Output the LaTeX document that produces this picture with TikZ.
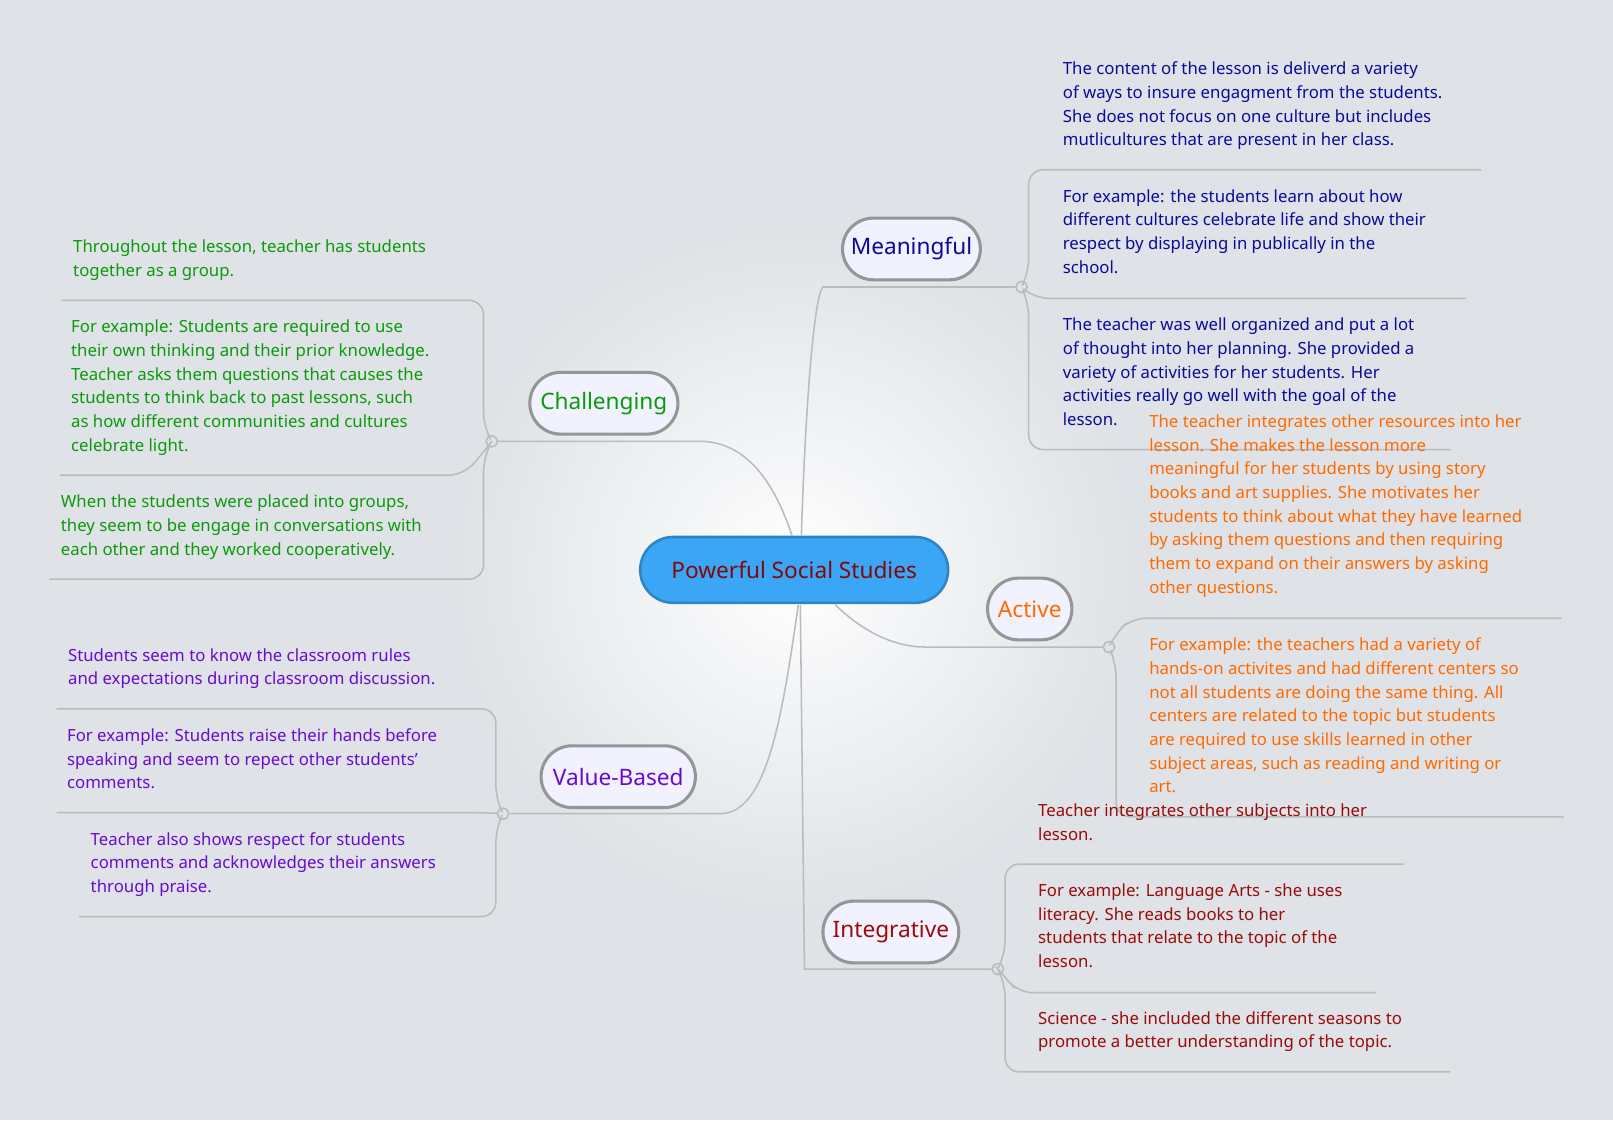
\documentclass[tikz,border=0pt]{standalone}
\usepackage{fontspec}
\setmainfont{Noto Sans}
\usetikzlibrary{shapes.misc}
\definecolor{bg}{HTML}{DFE2E6}
\definecolor{ln}{HTML}{B9BBBE}
\definecolor{cM}{HTML}{0A0A9A}
\definecolor{cC}{HTML}{0A9A0A}
\definecolor{cA}{HTML}{FF6A00}
\definecolor{cV}{HTML}{6A0AD0}
\definecolor{cI}{HTML}{9A0A0A}
\definecolor{cen}{HTML}{3AA6F5}
\tikzset{
 br/.style={draw=ln,line width=1.5pt,rounded corners=14pt},
 cn/.style={line width=1.5pt,draw=ln,fill=bg,circle,inner sep=0pt,minimum size=11pt},
 topic/.style={rounded rectangle,draw=ln!80!black,line width=3pt,fill=white!95!blue,minimum height=60pt,font=\fontsize{22}{26}\selectfont\bfseries,inner xsep=14pt},
 txt/.style={anchor=north west,align=left,inner sep=0pt,font=\fontsize{16.3}{23}\selectfont},
}
\begin{document}
\begin{tikzpicture}[x=1pt,y=-1pt]
\fill[bg] (0,0) rectangle (1568,1089);
\shade[inner color=white,outer color=bg] (772,554) circle (330);
\useasboundingbox (0,0) rectangle (1568,1089);
% central
\node[rounded rectangle,fill=cen,draw=cen!80!black,line width=2.5pt,minimum width=306pt,minimum height=64pt,font=\fontsize{22}{26}\selectfont\bfseries,text=cI!85!black] (c) at (772,554) {Powerful Social Studies};
% branch circles
\node[cn] (m) at (993,279) {};
\node[cn] (ch) at (478,429) {};
\node[cn] (a) at (1078,629) {};
\node[cn] (v) at (489,791) {};
\node[cn] (i) at (970,942) {};
% main connectors
\draw[br] (c.north) ++(5,0) coordinate (c1);
\draw[draw=ln,line width=1.5pt] (779,521) .. controls (782,420) and (790,290) .. (800,279) -- (m.west);
\draw[draw=ln,line width=1.5pt] (770,521) .. controls (750,460) and (720,429) .. (680,429) -- (ch.east);
\draw[draw=ln,line width=1.5pt] (812,588) .. controls (840,615) and (870,629) .. (900,629) -- (a.west);
\draw[draw=ln,line width=1.5pt] (776,588) .. controls (760,700) and (745,791) .. (700,791) -- (v.east);
\draw[draw=ln,line width=1.5pt] (778,588) -- (782,942) -- (i.west);
% topic nodes
\node[topic,text=cM,minimum width=162pt] (M) at (886,242) {Meaningful};
\node[topic,text=cC,minimum width=172pt] (C) at (587,392) {Challenging};
\node[topic,text=cA,minimum width=110pt] (A) at (1001,592) {Active};
\node[topic,text=cV,minimum width=178pt] (V) at (601,755) {Value-Based};
\node[topic,text=cI,minimum width=160pt] (I) at (866,906) {Integrative};
% Meaningful brackets
\draw[br] (m) -- (1000,265) -- (1000,165) -- (1440,165);
\draw[br] (m) -- (1005,290) -- (1425,290);
\draw[br] (m) -- (1000,295) -- (1000,437) -- (1410,437);
\node[txt,text=cM] (m1) at (1033,60) {The content of the lesson is deliverd a variety\\of ways to insure engagment from the students.\\She does not focus on one culture but includes\\mutlicultures that are present in her class.};
\node[txt,text=cM] (m2) at (1033,184) {For example: the students learn about how\\different cultures celebrate life and show their\\respect by displaying in publically in the\\school.};
\node[txt,text=cM] (m3) at (1033,309) {The teacher was well organized and put a lot\\of thought into her planning. She provided a\\variety of activities for her students. Her\\activities really go well with the goal of the\\lesson.};
% Challenging
\draw[br] (ch) -- (470,415) -- (470,292) -- (60,292);
\draw[br] (ch) -- (470,440) -- (450,462) -- (58,462);
\draw[br] (ch) -- (470,445) -- (470,563) -- (48,563);
\node[txt,text=cC] (c1t) at (71,233) {Throughout the lesson, teacher has students\\together as a group.};
\node[txt,text=cC] (c2t) at (69,311) {For example: Students are required to use\\their own thinking and their prior knowledge.\\Teacher asks them questions that causes the\\students to think back to past lessons, such\\as how different communities and cultures\\celebrate light.};
\node[txt,text=cC] (c3t) at (59,481) {When the students were placed into groups,\\they seem to be engage in conversations with\\each other and they worked cooperatively.};
% Active
\draw[br] (a) -- (1085,615) -- (1100,601) -- (1518,601);
\draw[br] (a) -- (1085,645) -- (1085,794) -- (1520,794);
\node[txt,text=cA] (a1) at (1117,403) {The teacher integrates other resources into her\\lesson. She makes the lesson more\\meaningful for her students by using story\\books and art supplies. She motivates her\\students to think about what they have learned\\by asking them questions and then requiring\\them to expand on their answers by asking\\other questions.};
\node[txt,text=cA] (a2) at (1117,620) {For example: the teachers had a variety of\\hands-on activites and had different centers so\\not all students are doing the same thing. All\\centers are related to the topic but students\\are required to use skills learned in other\\subject areas, such as reading and writing or\\art.};
% Value-Based
\draw[br] (v) -- (482,777) -- (482,689) -- (55,689);
\draw[br] (v) -- (470,790) -- (55,790);
\draw[br] (v) -- (482,805) -- (482,891) -- (77,891);
\node[txt,text=cV] (v1) at (66,630) {Students seem to know the classroom rules\\and expectations during classroom discussion.};
\node[txt,text=cV] (v2) at (65,708) {For example: Students raise their hands before\\speaking and seem to repect other students'\\comments.};
\node[txt,text=cV] (v3) at (88,809) {Teacher also shows respect for students\\comments and acknowledges their answers\\through praise.};
% Integrative
\draw[br] (i) -- (977,928) -- (977,840) -- (1365,840);
\draw[br] (i) -- (977,950) -- (990,965) -- (1338,965);
\draw[br] (i) -- (977,955) -- (977,1042) -- (1410,1042);
\node[txt,text=cI] (i1) at (1009,781) {Teacher integrates other subjects into her\\lesson.};
\node[txt,text=cI] (i2) at (1009,859) {For example: Language Arts - she uses\\literacy. She reads books to her\\students that relate to the topic of the\\lesson.};
\node[txt,text=cI] (i3) at (1009,983) {Science - she included the different seasons to\\promote a better understanding of the topic.};
\end{tikzpicture}
\end{document}
